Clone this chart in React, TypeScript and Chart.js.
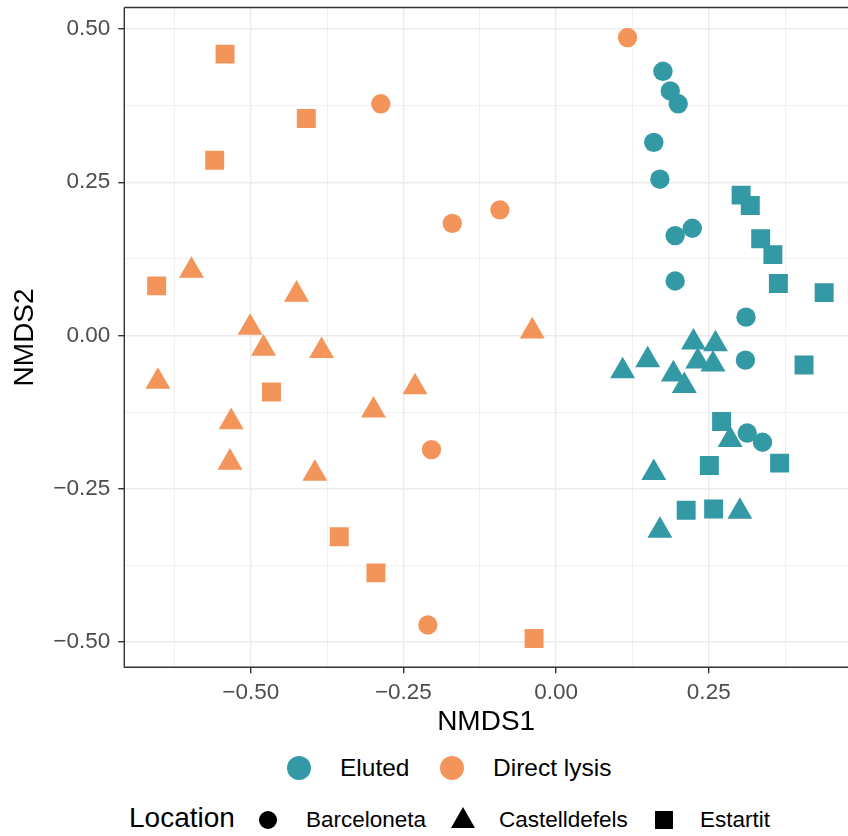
import React, { useEffect, useRef } from "react";
import { Chart, registerables } from "chart.js";

Chart.register(...registerables);

const TEAL = "#3399A4";
const ORANGE = "#F3955A";
const FONT = "'Liberation Sans', Arial, Helvetica, sans-serif";

// Eluted
const elutedBarcelonetaX = [0.175, 0.187, 0.2, 0.16, 0.17, 0.223, 0.195, 0.195, 0.311, 0.31, 0.313, 0.338];
const elutedBarcelonetaY = [0.431, 0.399, 0.378, 0.315, 0.255, 0.175, 0.163, 0.089, 0.03, -0.04, -0.159, -0.174];
const elutedCastelldefelsX = [0.225, 0.261, 0.109, 0.15, 0.232, 0.257, 0.192, 0.21, 0.285, 0.16, 0.301, 0.17];
const elutedCastelldefelsY = [-0.011, -0.014, -0.058, -0.04, -0.042, -0.047, -0.063, -0.082, -0.17, -0.224, -0.287, -0.318];
const elutedEstartitX = [0.303, 0.318, 0.335, 0.355, 0.364, 0.439, 0.406, 0.271, 0.251, 0.366, 0.213, 0.258];
const elutedEstartitY = [0.229, 0.212, 0.158, 0.132, 0.085, 0.07, -0.048, -0.14, -0.212, -0.208, -0.285, -0.283];

// Direct lysis
const lysisBarcelonetaX = [0.117, -0.287, -0.17, -0.092, -0.204, -0.21];
const lysisBarcelonetaY = [0.486, 0.378, 0.183, 0.205, -0.186, -0.472];
const lysisCastelldefelsX = [-0.597, -0.425, -0.501, -0.479, -0.652, -0.532, -0.534, -0.384, -0.231, -0.299, -0.395, -0.039];
const lysisCastelldefelsY = [0.106, 0.067, 0.013, -0.021, -0.075, -0.141, -0.207, -0.025, -0.084, -0.122, -0.225, 0.007];
const lysisEstartitX = [-0.542, -0.409, -0.559, -0.654, -0.466, -0.355, -0.295, -0.036];
const lysisEstartitY = [0.459, 0.354, 0.286, 0.081, -0.092, -0.328, -0.387, -0.494];

const xTickValues = [-0.625, -0.5, -0.375, -0.25, -0.125, 0, 0.125, 0.25, 0.375];
const yTickValues = [-0.5, -0.375, -0.25, -0.125, 0, 0.125, 0.25, 0.375, 0.5];
const xRange = [-0.707, 0.478];
const yRange = [-0.541, 0.535];

const groupLabels = ["Eluted", "Direct lysis"];
const locationLabels = ["Barceloneta", "Castelldefels", "Estartit"];

const zip = (xs: number[], ys: number[]) => xs.map((x, i) => ({ x, y: ys[i] }));
const isMajor = (v: number) => Math.abs(v * 4 - Math.round(v * 4)) < 1e-6;
const fmt = (v: number) => (Math.abs(v) < 1e-9 ? "0.00" : v.toFixed(2).replace("-", "\u2212"));

const CANVAS_W = 848;
const CANVAS_H = 745;

export default function App() {
  const ref = useRef<HTMLCanvasElement | null>(null);

  useEffect(() => {
    if (!ref.current) return;
    const styles: Record<string, { pointStyle: string; pointRadius: number }> = {
      Barceloneta: { pointStyle: "circle", pointRadius: 9.7 },
      Castelldefels: { pointStyle: "triangle", pointRadius: 14.4 },
      Estartit: { pointStyle: "rect", pointRadius: 13.4 },
    };
    const mk = (label: string, loc: string, color: string, xs: number[], ys: number[]) => ({
      label: label + " " + loc,
      data: zip(xs, ys),
      backgroundColor: color,
      borderWidth: 0,
      pointStyle: styles[loc].pointStyle,
      pointRadius: styles[loc].pointRadius,
      pointHoverRadius: styles[loc].pointRadius,
      showLine: false,
    });

    const borderPlugin = {
      id: "panelBorder",
      afterDraw(chart: any) {
        const { ctx, chartArea } = chart;
        ctx.save();
        ctx.strokeStyle = "#333333";
        ctx.lineWidth = 1.4;
        ctx.beginPath();
        ctx.moveTo(chartArea.left, chartArea.top);
        ctx.lineTo(chartArea.right + 2, chartArea.top);
        ctx.moveTo(chartArea.left, chartArea.top);
        ctx.lineTo(chartArea.left, chartArea.bottom);
        ctx.lineTo(chartArea.right + 2, chartArea.bottom);
        ctx.stroke();
        ctx.restore();
      },
    };

    const gridOpts = {
      color: "#EBEBEB",
      lineWidth: (c: any) => (c.tick && isMajor(c.tick.value) ? 1.4 : 0.7),
      tickColor: (c: any) => (c.tick && isMajor(c.tick.value) ? "#333333" : "rgba(0,0,0,0)"),
      tickLength: 6,
      tickWidth: 1.4,
      drawTicks: true,
    };

    const chart = new Chart(ref.current, {
      type: "scatter",
      data: {
        datasets: [
          mk(groupLabels[0], locationLabels[1], TEAL, elutedCastelldefelsX, elutedCastelldefelsY),
          mk(groupLabels[1], locationLabels[1], ORANGE, lysisCastelldefelsX, lysisCastelldefelsY),
          mk(groupLabels[0], locationLabels[0], TEAL, elutedBarcelonetaX, elutedBarcelonetaY),
          mk(groupLabels[1], locationLabels[0], ORANGE, lysisBarcelonetaX, lysisBarcelonetaY),
          mk(groupLabels[0], locationLabels[2], TEAL, elutedEstartitX, elutedEstartitY),
          mk(groupLabels[1], locationLabels[2], ORANGE, lysisEstartitX, lysisEstartitY),
        ] as any,
      },
      options: {
        responsive: false,
        maintainAspectRatio: false,
        animation: false,
        events: [],
        layout: { autoPadding: false, padding: { top: 7.5, left: 0, right: 0, bottom: 0 } },
        plugins: {
          legend: { display: false },
          tooltip: { enabled: false },
        },
        scales: {
          x: {
            type: "linear",
            min: xRange[0],
            max: xRange[1],
            afterBuildTicks: (scale: any) => {
              scale.ticks = xTickValues.map((v) => ({ value: v }));
            },
            afterFit: (scale: any) => {
              scale.height = CANVAS_H - 667.3;
              scale.paddingLeft = 0;
              scale.paddingRight = 0;
            },
            ticks: {
              autoSkip: false,
              maxRotation: 0,
              padding: 6,
              color: "#4D4D4D",
              font: { family: FONT, size: 22.5 },
              callback: (v: any) => (isMajor(Number(v)) ? fmt(Number(v)) : ""),
            },
            grid: gridOpts as any,
            border: { display: false },
            title: {
              display: true,
              text: "NMDS1",
              color: "#000000",
              font: { family: FONT, size: 28 },
              padding: { top: 0, bottom: 6 },
            },
          },
          y: {
            type: "linear",
            min: yRange[0],
            max: yRange[1],
            afterBuildTicks: (scale: any) => {
              scale.ticks = yTickValues.map((v) => ({ value: v }));
            },
            afterFit: (scale: any) => {
              scale.width = 124.3;
              scale.paddingTop = 0;
              scale.paddingBottom = 0;
            },
            ticks: {
              autoSkip: false,
              padding: 8,
              color: "#4D4D4D",
              font: { family: FONT, size: 22.5 },
              callback: (v: any) => (isMajor(Number(v)) ? fmt(Number(v)) : ""),
            },
            grid: gridOpts as any,
            border: { display: false },
            title: {
              display: true,
              text: "NMDS2",
              color: "#000000",
              font: { family: FONT, size: 28 },
              padding: { top: 8, bottom: 0 },
            },
          },
        },
      },
      plugins: [borderPlugin],
    } as any);

    return () => chart.destroy();
  }, []);

  const textStyle = (left: number, cy: number, size: number): React.CSSProperties => ({
    position: "absolute",
    left,
    top: cy,
    transform: "translateY(-50%)",
    fontFamily: FONT,
    fontSize: size,
    lineHeight: 1,
    color: "#000000",
    whiteSpace: "nowrap",
  });

  const dot = (cx: number, cy: number, d: number, color: string): React.CSSProperties => ({
    position: "absolute",
    left: cx - d / 2,
    top: cy - d / 2,
    width: d,
    height: d,
    borderRadius: "50%",
    background: color,
  });

  const row1 = 767.5;
  const row2 = 819.5;

  return (
    <div
      style={{
        position: "absolute",
        left: 0,
        top: 0,
        width: 848,
        height: 836,
        background: "#ffffff",
        overflow: "hidden",
      }}
    >
      <canvas ref={ref} width={CANVAS_W} height={CANVAS_H} style={{ width: CANVAS_W, height: CANVAS_H, display: "block" }} />

      <div style={dot(299, 768, 24, TEAL)} />
      <span style={textStyle(340, row1, 24.5)}>{groupLabels[0]}</span>
      <div style={dot(452, 768, 24, ORANGE)} />
      <span style={textStyle(493, row1, 24.5)}>{groupLabels[1]}</span>

      <span style={textStyle(129, row2 - 2, 28)}>Location</span>
      <div style={dot(268, row2, 18, "#000")} />
      <span style={textStyle(306, row2, 22.5)}>{locationLabels[0]}</span>
      <div
        style={{
          position: "absolute",
          left: 463 - 12,
          top: row2 - 13,
          width: 0,
          height: 0,
          borderLeft: "12px solid transparent",
          borderRight: "12px solid transparent",
          borderBottom: "21px solid #000",
        }}
      />
      <span style={textStyle(499, row2, 22.5)}>{locationLabels[1]}</span>
      <div
        style={{
          position: "absolute",
          left: 664 - 9,
          top: row2 - 9,
          width: 18,
          height: 18,
          background: "#000",
        }}
      />
      <span style={textStyle(700, row2, 22.5)}>{locationLabels[2]}</span>
    </div>
  );
}
